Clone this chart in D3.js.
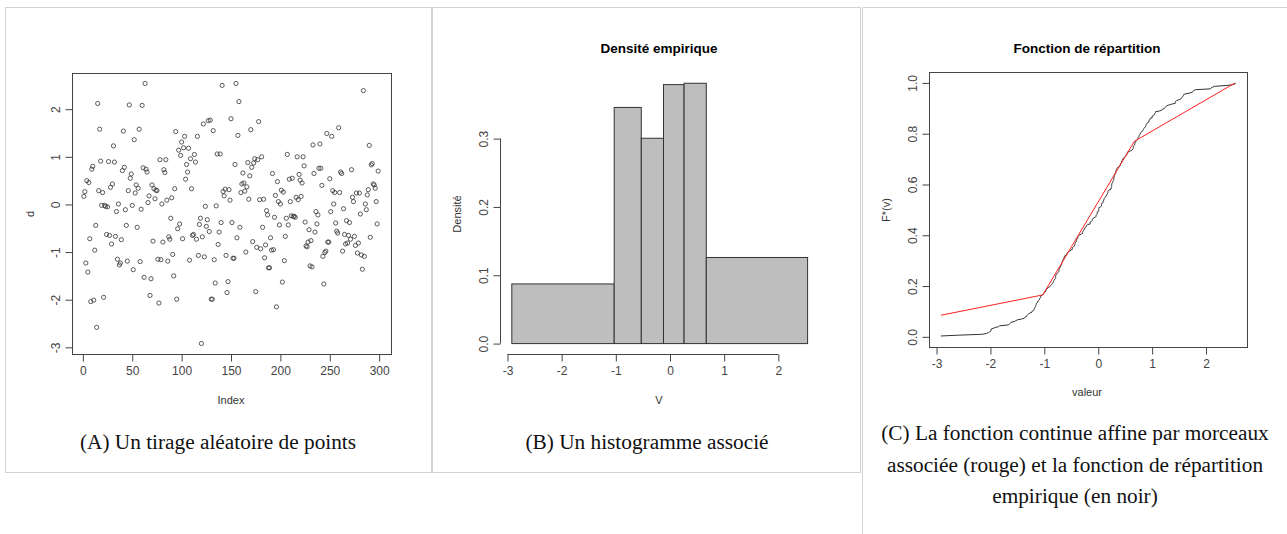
<!DOCTYPE html>
<html>
<head>
<meta charset="utf-8">
<script src="https://d3js.org/d3.v7.min.js"></script>
<style>
	body { margin: 0; background: white; }
	text { font-family: "Liberation Sans", Arial, sans-serif; fill: #333; }
	.caption { font-family: "Liberation Serif", "Times New Roman", serif; font-size: 21.3px; fill: #111; }
	.title { font-weight: bold; font-size: 13.5px; fill: #000; }
	.tick text { font-size: 12px; fill: #444; }
</style>
</head>
<body>
<script>

// tirage aleatoire (panel A), dans l'ordre de l'index
var tirage = [
	0.17, 0.27, -1.23, 0.5, -1.42, 0.46, -0.72, -2.04, 0.74, 0.8,
	-2.01, -0.96, -0.44, -2.58, 2.12, 0.29, 1.58, 0.91, -0.02, 0.25,
	-1.95, -0.02, -0.04, -0.63, -0.05, 0.9, -0.65, 0.36, -0.83, 0.43,
	1.23, 0.89, -0.67, -0.15, -1.15, 0.01, -1.27, -1.23, -0.74, 0.71,
	1.54, 0.78, -0.11, -0.44, -1.19, 0.29, 2.09, 0.55, 0.64, -0.02,
	-1.37, 1.36, 0.24, 0.41, -0.48, 0.34, 1.58, -1.2, -0.1, 2.08,
	0.77, -1.53, 2.54, 0.74, 0.68, 0.04, 0.18, -1.91, -1.56, 0.41,
	-0.77, 0.33, 0.12, 0.3, 0.29, -1.15, -2.07, 0.94, -1.16, 0.01,
	-0.79, 0.73, 0.67, 0.94, 0.09, -1.19, -0.68, -0.73, -0.29, 0.14,
	-1.05, -1.5, 0.33, 1.53, -1.99, -0.51, 1.14, -0.41, 1.03, 1.31,
	-0.72, 1.19, 1.43, 0.53, 0.84, 0.68, 1.18, -1.17, 0.96, 0.33,
	-0.65, -0.63, 1.05, 0.89, -0.73, 1.43, -1.07, -0.42, -0.29, -2.92,
	-0.68, 1.69, -1.1, -0.04, -0.46, -0.32, 1.76, -0.57, 1.77, -1.99,
	-1.99, 1.55, -1.16, -1.65, -0.03, 1.06, -0.84, -0.58, 1.06, -0.38,
	2.5, 0.27, 0.18, 0.32, -1.07, -1.85, -1.62, 0.31, 0.09, 1.8,
	-0.38, -1.13, -1.13, 0.84, 2.54, -0.7, 1.45, 2.16, -0.48, 0.25,
	0.43, 0.66, 0.45, 0.28, -1.0, 0.37, 0.88, 0.11, 0.6, 1.57,
	0.78, -0.78, 0.87, 0.96, -1.83, -0.9, 0.94, 1.74, 0.1, -0.93,
	1.0, -0.48, 0.11, -1.12, -0.85, -0.13, -0.22, -1.33, -1.33, -0.7,
	-0.96, 0.65, -0.95, -0.27, 0.19, -2.15, 0.48, 0.06, -0.43, 0.01,
	0.3, -1.63, 0.26, -1.18, -0.67, -0.29, 1.05, -0.43, 0.53, 0.06,
	-0.24, 0.55, -0.25, -0.25, -0.27, 0.15, 1.0, 0.1, 0.63, 0.51,
	0.17, 0.45, 1.0, 0.81, -0.37, -0.87, -0.89, -0.79, -0.53, -1.29,
	-0.76, -1.31, 1.25, 0.65, -0.58, -0.15, -0.41, -0.22, 0.76, 1.27,
	0.76, 0.4, -1.09, -1.67, -1.01, -0.98, 1.49, -0.79, -0.79, 0.54,
	-0.15, 1.43, 0.29, 0.01, 0.25, -0.39, -0.56, -0.6, 1.61, 0.25,
	0.68, 0.65, -0.98, -0.09, -0.63, -0.83, -0.34, -0.81, -0.65, -0.38,
	-0.73, 0.73, 0.15, 0.06, -0.67, -0.86, 0.24, -1.02, -0.81, 0.24,
	-0.2, -1.06, -1.36, 2.39, -1.09, 0.01, -0.11, 0.2, 0.31, 1.24,
	-0.69, 0.83, 0.86, 0.43, 0.41, 0.34, 0.06, -0.41, 0.7
];

// histogramme (panel B)
var breaks = [-2.92, -1.03, -0.53, -0.12, 0.26, 0.67, 2.54];
var densites = [0.0873, 0.3456, 0.3005, 0.379, 0.381, 0.126];

// fonction affine par morceaux (panel C, rouge)
var affineX = [-2.92, -1.03, 0.67, 2.54];
var affineY = [0.085, 0.165, 0.77, 1.0];

var ticksIndex = [0, 50, 100, 150, 200, 250, 300];
var ticksD = [-3, -2, -1, 0, 1, 2];
var ticksV = [-3, -2, -1, 0, 1, 2];
var ticksDens = [0, 0.1, 0.2, 0.3];
var ticksF = [0, 0.2, 0.4, 0.6, 0.8, 1.0];

// format a la R : trait d'union, pas de decimales inutiles
var fmtInt = function(d) { return String(d); };
var fmtDec = function(d) { return d.toFixed(1); };

var svg = d3.select("body")
	.append("svg")
	.attr("width", 1287)
	.attr("height", 534);

// cadres des trois figures
var frame = svg.append("g")
	.attr("fill", "none")
	.attr("stroke", "#d3d3d3");
frame.append("rect").attr("x", 5.5).attr("y", 7.5).attr("width", 426).attr("height", 465);
frame.append("rect").attr("x", 432.5).attr("y", 7.5).attr("width", 428).attr("height", 465);
frame.append("path").attr("d", "M862.5,534V7.5H1287");

function yLabels(g) {
	// R: etiquettes de l'axe y paralleles a l'axe
	g.selectAll(".tick text")
		.attr("transform", "rotate(-90)")
		.attr("x", 0)
		.attr("y", -13)
		.attr("dy", "0")
		.style("text-anchor", "middle");
}

function styleAxis(g) {
	g.selectAll("path, line").attr("stroke", "#444");
}

function box(x0, y0, x1, y1) {
	svg.append("rect")
		.attr("x", x0 + 0.5).attr("y", y0 + 0.5)
		.attr("width", x1 - x0).attr("height", y1 - y0)
		.attr("fill", "none")
		.attr("stroke", "#444");
}

function axisTitle(x, y, txt, rot) {
	var t = svg.append("text")
		.attr("font-size", 11)
		.style("text-anchor", "middle")
		.text(txt);
	if (rot) t.attr("transform", "translate(" + x + "," + y + ") rotate(-90)");
	else t.attr("x", x).attr("y", y);
}

// ---- panel A : nuage de points ----
var xA = d3.scaleLinear().domain([-11, 312]).range([72, 391]);
var yA = d3.scaleLinear().domain([-3.14, 2.76]).range([354, 73]);

box(72, 73, 391, 354);

svg.append("g")
	.attr("transform", "translate(0,354.5)")
	.call(d3.axisBottom(xA).tickValues(ticksIndex).tickFormat(fmtInt).tickSize(7).tickPadding(5).tickSizeOuter(0))
	.call(styleAxis)
	.call(function(g) { g.select(".domain").attr("d", "M" + xA(0) + ",0H" + xA(300)); });

svg.append("g")
	.attr("transform", "translate(72.5,0)")
	.call(d3.axisLeft(yA).tickValues(ticksD).tickFormat(fmtInt).tickSize(7).tickSizeOuter(0))
	.call(styleAxis)
	.call(function(g) { g.select(".domain").attr("d", "M0," + yA(-3) + "V" + yA(2)); })
	.call(yLabels);

svg.selectAll(".pt")
	.data(tirage)
	.enter()
	.append("circle")
	.attr("class", "pt")
	.attr("cx", function(d, i) { return xA(i + 1); })
	.attr("cy", function(d) { return yA(d); })
	.attr("r", 2.1)
	.attr("fill", "none")
	.attr("stroke", "#333")
	.attr("stroke-width", 0.8);

axisTitle(231, 404, "Index");
axisTitle(34, 214, "d", true);

svg.append("text")
	.attr("class", "caption")
	.attr("x", 218)
	.attr("y", 449)
	.style("text-anchor", "middle")
	.text("(A) Un tirage aléatoire de points");

// ---- panel B : histogramme ----
var xB = d3.scaleLinear().domain([-3.138, 2.758]).range([500, 819.4]);
var yB = d3.scaleLinear().domain([-0.01524, 0.396]).range([354, 73]);

svg.append("text")
	.attr("class", "title")
	.attr("x", 659)
	.attr("y", 53)
	.style("text-anchor", "middle")
	.text("Densité empirique");

svg.selectAll(".bar")
	.data(densites)
	.enter()
	.append("rect")
	.attr("class", "bar")
	.attr("x", function(d, i) { return xB(breaks[i]); })
	.attr("width", function(d, i) { return xB(breaks[i + 1]) - xB(breaks[i]); })
	.attr("y", function(d) { return yB(d); })
	.attr("height", function(d) { return yB(0) - yB(d); })
	.attr("fill", "#bebebe")
	.attr("stroke", "#333")
	.attr("stroke-width", 1);

svg.append("g")
	.attr("transform", "translate(0,354.5)")
	.call(d3.axisBottom(xB).tickValues(ticksV).tickFormat(fmtInt).tickSize(7).tickPadding(5).tickSizeOuter(0))
	.call(styleAxis)
	.call(function(g) { g.select(".domain").attr("d", "M" + xB(-3) + ",0H" + xB(2)); });

svg.append("g")
	.attr("transform", "translate(500.5,0)")
	.call(d3.axisLeft(yB).tickValues(ticksDens).tickFormat(fmtDec).tickSize(7).tickSizeOuter(0))
	.call(styleAxis)
	.call(function(g) { g.select(".domain").attr("d", "M0," + yB(0) + "V" + yB(0.3)); })
	.call(yLabels);

axisTitle(659, 404, "V");
axisTitle(461, 214, "Densité", true);

svg.append("text")
	.attr("class", "caption")
	.attr("x", 647)
	.attr("y", 449)
	.style("text-anchor", "middle")
	.text("(B) Un histogramme associé");

// ---- panel C : fonctions de repartition ----
var xC = d3.scaleLinear().domain([-3.14, 2.76]).range([929, 1247]);
var yC = d3.scaleLinear().domain([-0.04, 1.043]).range([347, 72]);

svg.append("text")
	.attr("class", "title")
	.attr("x", 1087)
	.attr("y", 53)
	.style("text-anchor", "middle")
	.text("Fonction de répartition");

box(929, 72, 1247, 347);

svg.append("g")
	.attr("transform", "translate(0,347.5)")
	.call(d3.axisBottom(xC).tickValues(ticksV).tickFormat(fmtInt).tickSize(7).tickPadding(5).tickSizeOuter(0))
	.call(styleAxis)
	.call(function(g) { g.select(".domain").attr("d", "M" + xC(-3) + ",0H" + xC(2)); });

svg.append("g")
	.attr("transform", "translate(929.5,0)")
	.call(d3.axisLeft(yC).tickValues(ticksF).tickFormat(fmtDec).tickSize(7).tickSizeOuter(0))
	.call(styleAxis)
	.call(function(g) { g.select(".domain").attr("d", "M0," + yC(0) + "V" + yC(1)); })
	.call(yLabels);

// repartition empirique a partir du tirage
var tries = tirage.slice().sort(d3.ascending);
var n = tries.length;

var line = d3.line()
	.x(function(d) { return xC(d[0]); })
	.y(function(d) { return yC(d[1]); });

svg.append("path")
	.datum(tries.map(function(v, i) { return [v, (i + 1) / n]; }))
	.attr("d", line)
	.attr("fill", "none")
	.attr("stroke", "#333")
	.attr("stroke-width", 1);

svg.append("path")
	.datum(affineX.map(function(v, i) { return [v, affineY[i]]; }))
	.attr("d", line)
	.attr("fill", "none")
	.attr("stroke", "#ff2020")
	.attr("stroke-width", 1);

axisTitle(1087, 396, "valeur");
axisTitle(890, 210, "F*(v)", true);

var captionC = [
	"(C) La fonction continue affine par morceaux",
	"associée (rouge) et la fonction de répartition",
	"empirique (en noir)"
];

svg.selectAll(".capC")
	.data(captionC)
	.enter()
	.append("text")
	.attr("class", "caption")
	.attr("x", 1075)
	.attr("y", function(d, i) { return 440 + i * 31.5; })
	.style("text-anchor", "middle")
	.text(function(d) { return d; });

</script>
</body>
</html>
